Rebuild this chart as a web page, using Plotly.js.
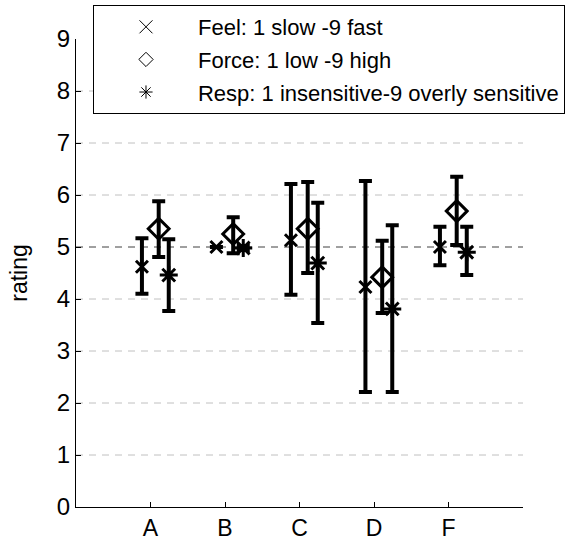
<!DOCTYPE html>
<html>
<head>
<meta charset="utf-8">
<script src="https://cdn.plot.ly/plotly-3.0.1.min.js"></script>
<style>html,body{margin:0;padding:0;background:#fff;}#chart{width:569px;height:540px;}</style>
</head>
<body>
<div id="chart"></div>
<script>
const categories = ['A', 'B', 'C', 'D', 'F'];
const catPos = [1, 2, 3, 4, 5];
const seriesNames = ['Feel: 1 slow -9 fast', 'Force: 1 low -9 high', 'Resp: 1 insensitive-9 overly sensitive'];
const yTicks = [0, 1, 2, 3, 4, 5, 6, 7, 8, 9];
const grayGridVals = [1, 2, 3, 4, 6, 7, 8];
const refLine = 5;

const feelMean = [4.62, 5.00, 5.13, 4.23, 5.00];
const feelHigh = [5.17, 5.00, 6.21, 6.27, 5.39];
const feelLow  = [4.10, 5.00, 4.08, 2.21, 4.65];

const forceMean = [5.35, 5.25, 5.35, 4.42, 5.69];
const forceHigh = [5.88, 5.57, 6.25, 5.12, 6.35];
const forceLow  = [4.81, 4.88, 4.50, 3.73, 5.04];

const respMean = [4.46, 4.98, 4.69, 3.81, 4.90];
const respHigh = [5.15, 5.02, 5.85, 5.42, 5.39];
const respLow  = [3.77, 4.94, 3.54, 2.21, 4.46];

const offsets = [-0.115, 0.11, 0.245];
const symbols = ['x-thin-open', 'diamond-open', 'asterisk-open'];
const sizes = [12, 16, 15];
const legendSizes = [13, 11, 11];

function mk(i, mean, hi, lo) {
  return {
    type: 'scatter', mode: 'markers', showlegend: false,
    x: catPos.map(p => p + offsets[i]),
    y: mean,
    marker: {symbol: symbols[i], size: sizes[i], color: '#000', line: {color: '#000', width: 3}},
    error_y: {
      type: 'data', symmetric: false,
      array: hi.map((h, k) => h - mean[k]),
      arrayminus: lo.map((l, k) => mean[k] - l),
      color: '#000', thickness: 4, width: 6.5
    }
  };
}
function lg(i) {
  return {
    type: 'scatter', mode: 'markers', name: seriesNames[i], legendgroup: 'g' + i,
    x: [null], y: [null],
    marker: {symbol: symbols[i], size: legendSizes[i], color: '#000', line: {color: '#000', width: 1}}
  };
}

const data = [
  mk(0, feelMean, feelHigh, feelLow),
  mk(1, forceMean, forceHigh, forceLow),
  mk(2, respMean, respHigh, respLow),
  lg(0), lg(1), lg(2)
];

const shapes = grayGridVals.map(v => ({
  type: 'line', xref: 'paper', yref: 'y', x0: 0, x1: 1, y0: v, y1: v,
  line: {color: '#c0c0c0', width: 1, dash: '7px,6px'}, layer: 'below'
}));
shapes.push({
  type: 'line', xref: 'paper', yref: 'y', x0: 0, x1: 1, y0: refLine, y1: refLine,
  line: {color: '#404040', width: 1, dash: '7px,6px'}, layer: 'below'
});

const layout = {
  width: 569, height: 540,
  margin: {l: 76, r: 46, t: 39, b: 33, autoexpand: false},
  paper_bgcolor: '#fff', plot_bgcolor: '#fff',
  font: {family: 'Liberation Sans, Arial, sans-serif', color: '#000', size: 22},
  xaxis: {
    range: [0, 6], tickvals: [0, 1, 2, 3, 4, 5, 6], ticktext: ['', ...categories, ''],
    showgrid: false, zeroline: false, showline: true, linecolor: '#000', linewidth: 1,
    ticks: 'inside', ticklen: 5, tickcolor: '#000', tickfont: {size: 23}
  },
  yaxis: {
    range: [0, 9], tickvals: yTicks,
    showgrid: false, zeroline: false, showline: true, linecolor: '#000', linewidth: 1,
    ticks: 'inside', ticklen: 5, tickcolor: '#000', tickfont: {size: 24},
    title: {text: 'rating', font: {size: 23}, standoff: 22}
  },
  shapes: shapes,
  showlegend: true,
  legend: {
    x: 0.038, y: 1.0726, xanchor: 'left', yanchor: 'top',
    bgcolor: '#fff', bordercolor: '#000', borderwidth: 1,
    font: {size: 22, color: '#000'}, itemwidth: 94, tracegroupgap: 1
  }
};

Plotly.newPlot('chart', data, layout, {displayModeBar: false, staticPlot: true});
</script>
</body>
</html>
